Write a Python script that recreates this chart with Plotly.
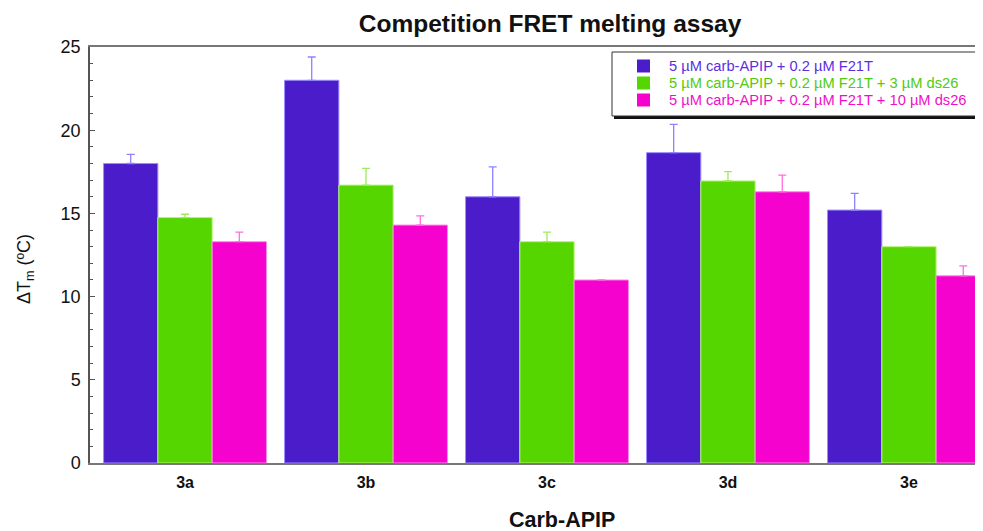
import plotly.graph_objects as go

categories = ["3a", "3b", "3c", "3d", "3e"]
series_names = [
    "5 µM carb-APIP + 0.2 µM F21T",
    "5 µM carb-APIP + 0.2 µM F21T + 3 µM ds26",
    "5 µM carb-APIP + 0.2 µM F21T + 10 µM ds26",
]
values_f21t = [18.0, 23.0, 16.0, 18.65, 15.2]
values_ds26_3 = [14.75, 16.7, 13.3, 16.95, 13.0]
values_ds26_10 = [13.3, 14.3, 11.0, 16.3, 11.25]
err_f21t = [0.55, 1.4, 1.8, 1.7, 1.0]
err_ds26_3 = [0.2, 1.0, 0.58, 0.56, 0.0]
err_ds26_10 = [0.57, 0.55, 0.0, 1.0, 0.6]

colors = ["#4B1CC9", "#55D600", "#F502CF"]
edge_colors = ["#9C8CFF", "#B8F27A", "#FF8AE6"]
err_colors = ["#8F82FF", "#9EEB5A", "#FF6FE0"]
text_colors = ["#5A2FE0", "#4FCB10", "#F00FC8"]

# page body margin offset (browser default 8px)
OFF = 8
W, H = 983 - OFF, 531 - OFF
L, R, T, B = 90 - OFF, 0, 47 - OFF, 68
pw = W - L - R
ph = H - T - B

fig = go.Figure()
for name, vals, errs, c, ec, erc in zip(
    series_names,
    [values_f21t, values_ds26_3, values_ds26_10],
    [err_f21t, err_ds26_3, err_ds26_10],
    colors, edge_colors, err_colors,
):
    fig.add_trace(go.Bar(
        x=categories, y=vals, name=name,
        marker=dict(color=c, line=dict(color=ec, width=1)),
        error_y=dict(type="data", array=errs, arrayminus=[0] * len(errs),
                     symmetric=False, color=erc, thickness=1.3, width=4),
    ))

def px_x(p):
    return (p - OFF - L) / pw

def px_y(p):
    return (H - B - (p - OFF)) / ph

# legend frame with shadow (drawn manually)
fig.add_shape(type="rect", xref="paper", yref="paper",
              x0=px_x(614), x1=px_x(1000), y0=px_y(119), y1=px_y(55),
              fillcolor="#111111", line=dict(width=0), layer="above")
fig.add_shape(type="rect", xref="paper", yref="paper",
              x0=px_x(612), x1=px_x(1000), y0=px_y(116), y1=px_y(52),
              fillcolor="white", line=dict(color="#333333", width=1), layer="above")
row_y = [66, 83, 100]
for name, c, tc, ry in zip(series_names, colors, text_colors, row_y):
    fig.add_shape(type="rect", xref="paper", yref="paper",
                  x0=px_x(637), x1=px_x(650), y0=px_y(ry + 6.5), y1=px_y(ry - 6.5),
                  fillcolor=c, line=dict(width=0), layer="above")
    fig.add_annotation(text=name, xref="paper", yref="paper",
                       x=px_x(667), y=px_y(ry), xanchor="left", yanchor="middle",
                       showarrow=False, font=dict(size=14.7, color=tc))

fig.update_layout(
    width=W, height=H,
    margin=dict(l=L, r=R, t=T, b=B, autoexpand=False),
    plot_bgcolor="white", paper_bgcolor="white",
    barmode="group", bargap=0.1, bargroupgap=0,
    font=dict(family="Liberation Sans, Arial, sans-serif", color="#222222"),
    title=dict(text="<b>Competition FRET melting assay</b>",
               x=(550 - OFF) / W, xanchor="center", y=1 - (23 - OFF) / H, yanchor="middle",
               font=dict(size=24.5, color="#111111")),
    showlegend=False,
)
fig.update_xaxes(
    range=[-0.525, 4.409], automargin=False,
    showline=True, linecolor="#777777", linewidth=1.5, mirror=True,
    ticks="", tickfont=dict(size=16, color="#111111"), ticklabelstandoff=4,
    tickvals=categories, ticktext=["<b>%s</b>" % c for c in categories],
)
fig.update_yaxes(
    range=[0, 25], tickvals=[0, 5, 10, 15, 20, 25], automargin=False,
    showline=True, linecolor="#555555", linewidth=1.5,
    ticks="inside", ticklen=5, tickcolor="#555555", ticklabelstandoff=4,
    minor=dict(ticks="inside", ticklen=3, dtick=1, tickcolor="#555555"),
    showgrid=False, zeroline=False,
    tickfont=dict(size=18, color="#111111"),
)
fig.add_annotation(text="<b>Carb-APIP</b>", xref="paper", yref="paper",
                   x=px_x(562), y=px_y(520), xanchor="center", yanchor="middle",
                   showarrow=False, font=dict(size=21.5, color="#111111"))
fig.add_annotation(text="ΔT<sub>m</sub> (ºC)", xref="paper", yref="paper",
                   x=px_x(25), y=px_y(269), textangle=-90, showarrow=False,
                   xanchor="center", yanchor="middle",
                   font=dict(size=18, color="#111111"))
fig.write_html("out.html")
